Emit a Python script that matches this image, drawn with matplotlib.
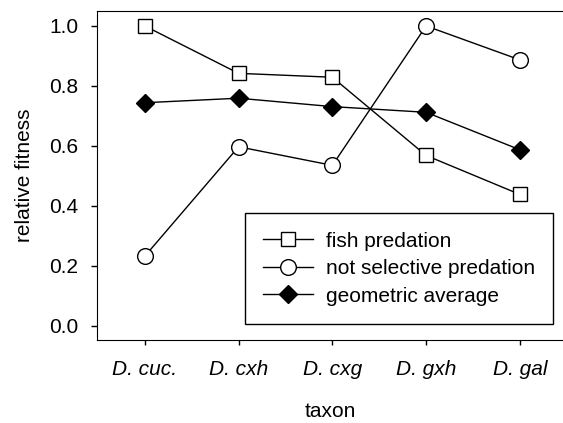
import matplotlib.pyplot as plt

plt.rcParams['font.family'] = ['Liberation Sans', 'DejaVu Sans']

# data
taxa = ["D. cuc.", "D. cxh", "D. cxg", "D. gxh", "D. gal"]
fish_predation = [1.0, 0.842, 0.829, 0.568, 0.438]
not_selective = [0.232, 0.597, 0.535, 1.0, 0.887]
geometric_avg = [0.744, 0.759, 0.731, 0.712, 0.587]

x = list(range(len(taxa)))
fs = 15

fig = plt.figure(figsize=(5.63, 4.23), dpi=100)
ax = fig.add_axes([0.1723, 0.196, 0.8277, 0.778])

ax.plot(x, fish_predation, color='black', lw=1, marker='s', ms=9.8,
        mfc='white', mec='black', mew=1, label='fish predation')
ax.plot(x, not_selective, color='black', lw=1, marker='o', ms=11.3,
        mfc='white', mec='black', mew=1, label='not selective predation')
ax.plot(x, geometric_avg, color='black', lw=1, marker='D', ms=9.3,
        mfc='black', mec='black', mew=1, label='geometric average')

ax.set_xlim(-0.51, 4.46)
ax.set_ylim(-0.048, 1.05)
ax.set_yticks([0.0, 0.2, 0.4, 0.6, 0.8, 1.0])
ax.set_yticklabels(['0.0', '0.2', '0.4', '0.6', '0.8', '1.0'], fontsize=fs)
ax.set_xticks(x)
ax.set_xticklabels(taxa, fontsize=fs, style='italic')
ax.tick_params(axis='y', direction='out', length=4.3, width=1, pad=9)
ax.tick_params(axis='x', direction='out', length=3.6, width=1, pad=11)
ax.spines['right'].set_visible(False)

ax.set_ylabel('relative fitness', fontsize=fs, labelpad=11)
ax.set_xlabel('taxon', fontsize=fs, labelpad=16)

leg = ax.legend(loc='lower right', bbox_to_anchor=(0.9785, 0.0486),
                borderaxespad=0, fontsize=fs, frameon=True, fancybox=False,
                edgecolor='black', framealpha=1, handlelength=2.4,
                handletextpad=0.6, borderpad=0.88, labelspacing=0.41)
leg.get_frame().set_linewidth(1)

fig.savefig('out.png', dpi=100)
